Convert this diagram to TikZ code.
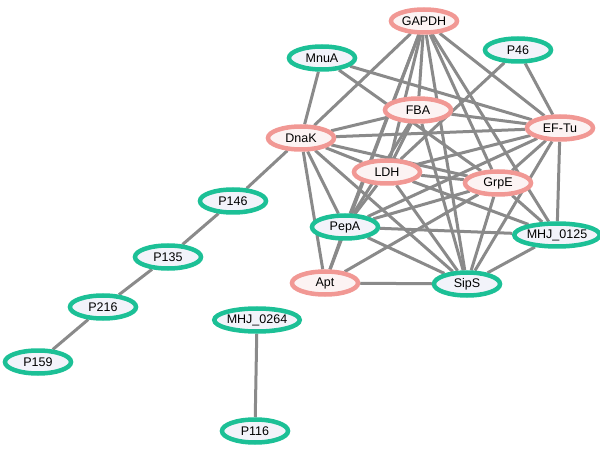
\documentclass[tikz,border=0pt]{standalone}
\usepackage{fontspec}
\setmainfont{Liberation Sans}
\usetikzlibrary{shapes.geometric,backgrounds}
\definecolor{pinkb}{RGB}{241,152,148}
\definecolor{pinkf}{RGB}{252,243,243}
\definecolor{tealb}{RGB}{28,192,150}
\definecolor{tealf}{RGB}{242,243,250}
\definecolor{edgec}{RGB}{138,138,138}
\tikzset{
  prot/.style={ellipse, minimum width=66pt, minimum height=23pt, inner sep=0pt, line width=4.5pt, font=\fontsize{12.5pt}{14pt}\selectfont},
  pk/.style={prot, draw=pinkb, fill=pinkf},
  tl/.style={prot, draw=tealb, fill=tealf},
  lnk/.style={draw=edgec, line width=3pt}
}
\begin{document}
\begin{tikzpicture}[x=1pt,y=-1pt]
\useasboundingbox (0,0) rectangle (600,449);
\node[pk] (GAPDH) at (424,21) {GAPDH};
\node[tl] (MnuA) at (322,58) {MnuA};
\node[tl] (P46) at (518,50) {P46};
\node[pk] (FBA) at (418,110) {FBA};
\node[pk] (DnaK) at (301,138) {DnaK};
\node[pk] (EFTu) at (560,128) {EF-Tu};
\node[pk] (LDH) at (387,172) {LDH};
\node[pk] (GrpE) at (498,183) {GrpE};
\node[tl] (PepA) at (345,227) {PepA};
\node[tl] (MHJa) at (557,235) {MHJ\_0125};
\node[pk] (Apt) at (325,283) {Apt};
\node[tl] (SipS) at (467,284) {SipS};
\node[tl] (P146) at (233,201) {P146};
\node[tl] (P135) at (168,257) {P135};
\node[tl] (P216) at (103,307) {P216};
\node[tl] (P159) at (38,362) {P159};
\node[tl] (MHJb) at (257,320) {MHJ\_0264};
\node[tl] (P116) at (255,431) {P116};
\begin{pgfonlayer}{background}
\foreach \a/\b in {GAPDH/DnaK,GAPDH/FBA,GAPDH/LDH,GAPDH/PepA,GAPDH/Apt,GAPDH/GrpE,GAPDH/SipS,GAPDH/MHJa,GAPDH/EFTu,
  MnuA/DnaK,MnuA/EFTu,MnuA/GrpE,P46/EFTu,P46/LDH,
  DnaK/FBA,DnaK/EFTu,DnaK/LDH,DnaK/GrpE,DnaK/PepA,DnaK/Apt,DnaK/SipS,DnaK/P146,
  FBA/EFTu,FBA/LDH,FBA/PepA,FBA/SipS,
  EFTu/LDH,EFTu/GrpE,EFTu/PepA,EFTu/SipS,EFTu/MHJa,
  LDH/GrpE,LDH/PepA,LDH/SipS,LDH/MHJa,
  GrpE/PepA,GrpE/Apt,GrpE/SipS,GrpE/MHJa,
  PepA/Apt,PepA/SipS,PepA/MHJa,Apt/SipS,SipS/MHJa,
  P146/P135,P135/P216,P216/P159,MHJb/P116}
  \draw[lnk] (\a) -- (\b);
\end{pgfonlayer}
\end{tikzpicture}
\end{document}
